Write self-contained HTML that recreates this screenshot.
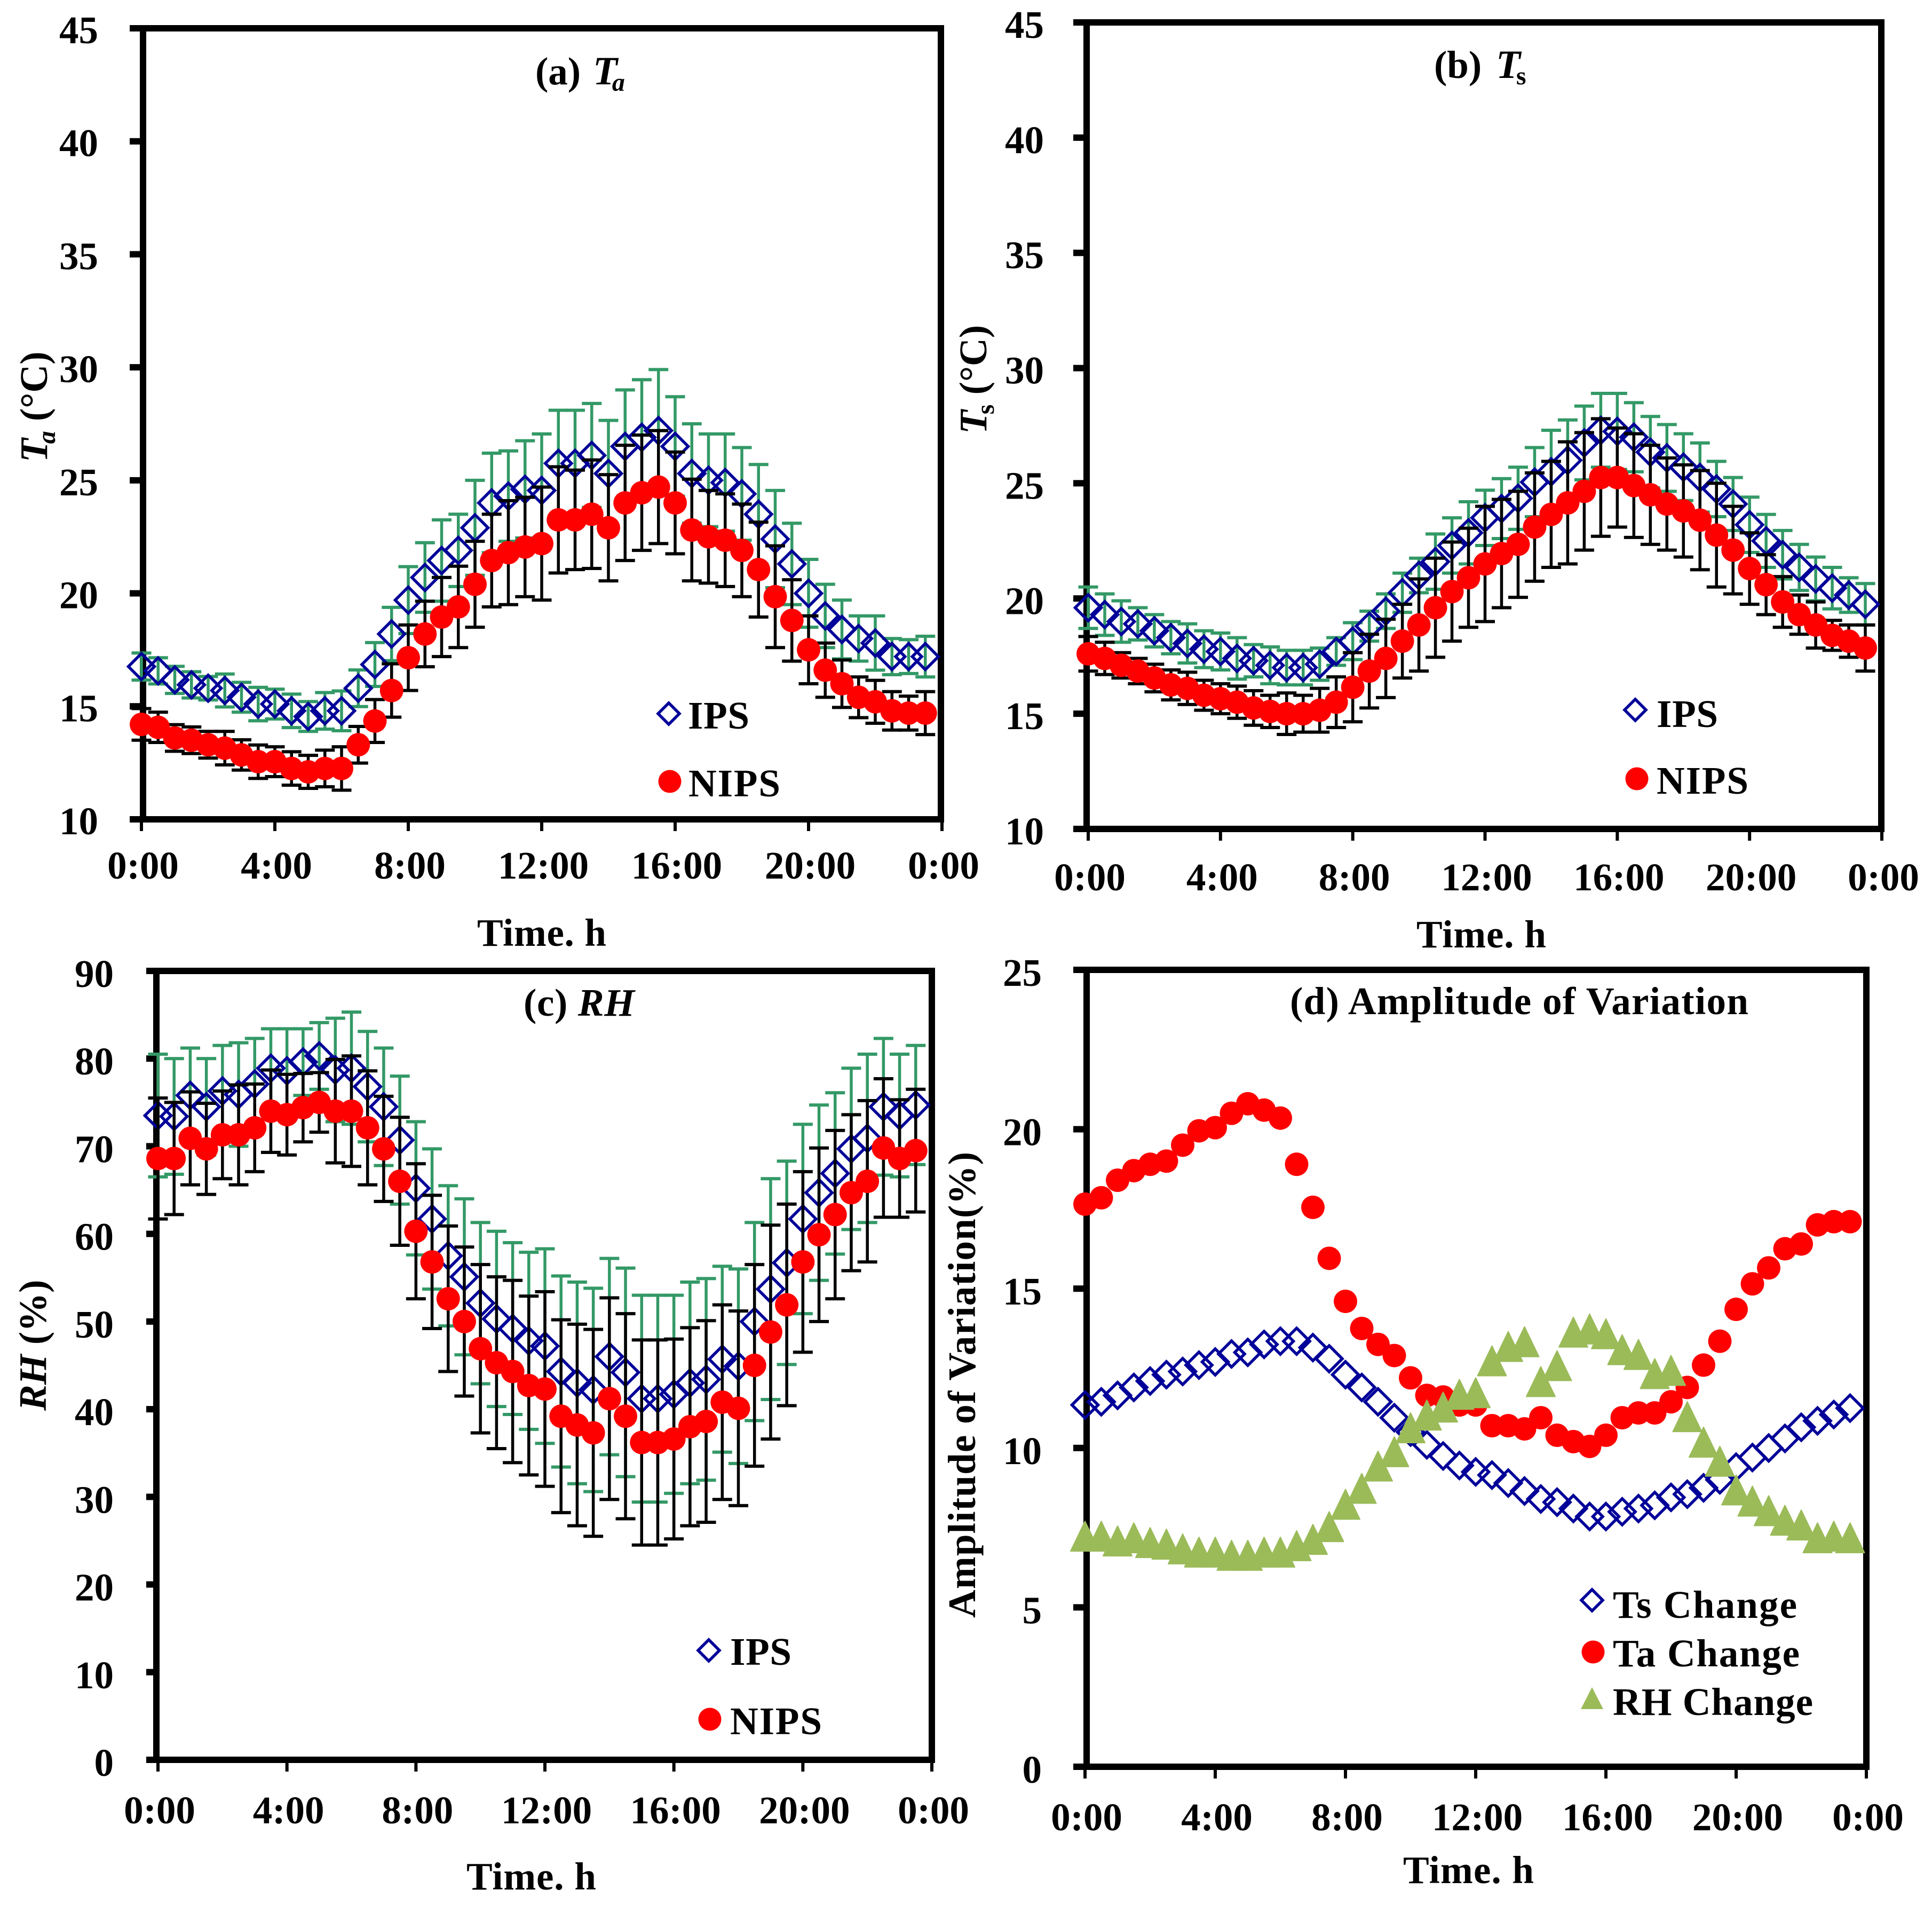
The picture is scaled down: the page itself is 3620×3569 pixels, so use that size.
<!DOCTYPE html>
<html lang="en">
<head>
<meta charset="utf-8">
<title>Temperature and humidity over 24 hours</title>
<style>
html,body{margin:0;padding:0;background:#fff;}
svg{display:block;}
text{font-family:"Liberation Serif",serif;font-weight:bold;fill:#000;font-size:73px;}
.it{font-style:italic;}
</style>
</head>
<body>
<svg id="figure" xmlns="http://www.w3.org/2000/svg" width="3620" height="3569" viewBox="0 0 3620 3569">
<rect x="0" y="0" width="3620" height="3569" fill="#fff"/>

<g id="panel-a"></g>
<g id="panel-b"></g>
<g id="panel-c"></g>
<g id="panel-d"></g>

<text x="1003" y="158">(a) <tspan class="it" x="1111" font-size="75">T</tspan><tspan class="it" font-size="48" dx="-10" dy="12">a</tspan></text>
<text x="2687" y="146">(b) <tspan class="it" x="2803" font-size="75">T</tspan><tspan font-size="48" dx="-8" dy="12">s</tspan></text>
<text x="981" y="1903" textLength="208">(c) <tspan class="it">RH</tspan></text>
<text x="2417" y="1900" textLength="859">(d)  Amplitude of Variation</text>

<text transform="translate(88,866) rotate(-90)"><tspan class="it">T</tspan><tspan class="it" font-size="48" dx="-10" dy="15">a</tspan><tspan dy="-15"> (°C)</tspan></text>
<text transform="translate(1848,813) rotate(-90)"><tspan class="it">T</tspan><tspan font-size="48" dx="-8" dy="14">s</tspan><tspan dy="-14"> (°C)</tspan></text>
<text transform="translate(86,2643) rotate(-90)"><tspan class="it">RH</tspan> (%)</text>
<text transform="translate(1827,3031) rotate(-90)" textLength="873">Amplitude of Variation(%)</text>

<text x="894" y="1772" textLength="242">Time. h</text>
<text x="2654" y="1775" textLength="243">Time. h</text>
<text x="874" y="3540" textLength="243">Time. h</text>
<text x="2629" y="3528" textLength="245">Time. h</text>

<g>
  <polygon points="1253,1317 1273,1337 1253,1357 1233,1337" fill="none" stroke="#000099" stroke-width="5.5"/>
  <text x="1289" y="1365" textLength="115">IPS</text>
  <circle cx="1255" cy="1464" r="21.5" fill="#ff0000"/>
  <text x="1290" y="1492" textLength="172">NIPS</text>
</g>
<g>
  <polygon points="3064,1310 3084,1330 3064,1350 3044,1330" fill="none" stroke="#000099" stroke-width="5.5"/>
  <text x="3104" y="1362" textLength="115">IPS</text>
  <circle cx="3067" cy="1459" r="21.5" fill="#ff0000"/>
  <text x="3104" y="1487" textLength="172">NIPS</text>
</g>
<g>
  <polygon points="1328,3072 1348,3092 1328,3112 1308,3092" fill="none" stroke="#000099" stroke-width="5.5"/>
  <text x="1368" y="3119" textLength="115">IPS</text>
  <circle cx="1330" cy="3221" r="21.5" fill="#ff0000"/>
  <text x="1368" y="3249" textLength="172">NIPS</text>
</g>
<g>
  <polygon points="2983,2978 3003,2998 2983,3018 2963,2998" fill="none" stroke="#000099" stroke-width="5.5"/>
  <text x="3022" y="3031" textLength="345">Ts Change</text>
  <circle cx="2985" cy="3095" r="21.5" fill="#ff0000"/>
  <text x="3022" y="3122" textLength="350">Ta Change</text>
  <polygon points="2983,3161 3004,3202 2962,3202" fill="#9bbb59"/>
  <text x="3022" y="3213" textLength="375">RH Change</text>
</g>
</svg>
<script>
// Shared categories (hour of day for each half-hourly reading)
const halfHours = [0,0.5,1,1.5,2,2.5,3,3.5,4,4.5,5,5.5,6,6.5,7,7.5,8,8.5,9,9.5,10,10.5,11,11.5,12,12.5,13,13.5,14,14.5,15,15.5,16,16.5,17,17.5,18,18.5,19,19.5,20,20.5,21,21.5,22,22.5,23,23.5];
const xTickHours = [0,4,8,12,16,20,24];
const xTickLabels = ['0:00','4:00','8:00','12:00','16:00','20:00','0:00'];
const tempTicks = [10,15,20,25,30,35,40,45];
const rhTicks = [0,10,20,30,40,50,60,70,80,90];
const ampTicks = [0,5,10,15,20,25];

// Panel (a) air temperature
const taIps = [16.76,16.57,16.17,15.95,15.8,15.7,15.4,15.1,15.1,14.8,14.55,14.8,14.8,15.8,16.85,18.2,19.7,20.7,21.45,21.9,22.9,24,24.3,24.6,24.55,25.75,25.75,26.1,25.3,26.5,26.9,27.2,26.5,25.3,25,24.9,24.4,23.5,22.4,21.3,20,19,18.4,18,17.8,17.2,17.2,17.2];
const taIpsErr = [0.6,0.58,0.6,0.58,0.52,0.73,0.66,0.74,0.66,0.74,0.66,0.81,0.88,0.81,0.97,1.18,1.48,1.54,1.8,1.6,2.1,2.2,2,2.15,2.5,2.35,2.35,2.3,2.35,2.5,2.55,2.7,2.2,2.2,2.05,2.15,2.05,2.2,2.15,1.8,1.5,1.4,1.3,1,1.2,0.8,0.75,0.9];
const taNips = [14.2,14.07,13.6,13.5,13.3,13.15,12.85,12.55,12.55,12.25,12.1,12.25,12.25,13.3,14.35,15.7,17.15,18.2,18.95,19.4,20.4,21.45,21.8,22.05,22.2,23.25,23.25,23.5,22.9,24,24.45,24.7,24,22.8,22.5,22.35,21.9,21.05,19.85,18.8,17.5,16.6,16,15.4,15.2,14.8,14.7,14.7];
const taNipsErr = [0.7,0.67,0.59,0.59,0.59,0.74,0.67,0.74,0.66,0.74,0.73,0.81,0.96,0.81,0.95,1.18,1.45,1.45,1.75,1.8,1.9,2.05,2.3,2.2,2.5,2.35,2.2,2.4,2.35,2.55,2.55,2.5,2.25,2.25,2.05,2.05,2.05,2.1,2.25,1.8,1.5,1.2,1.05,0.9,0.95,0.85,0.75,0.95];

// Panel (b) surface temperature
const tsIps = [19.6,19.3,19,18.9,18.6,18.3,18.05,17.8,17.7,17.4,17.3,17.1,17,17,17.15,17.7,18.15,18.8,19.45,20.25,21,21.6,22.3,22.85,23.5,23.9,24.35,25.05,25.5,26,26.75,27.3,27.25,27,26.35,26.1,25.7,25.25,24.75,24.1,23.2,22.5,21.9,21.35,20.85,20.45,20.15,19.75];
const tsIpsErr = [0.9,0.9,0.9,0.7,0.7,0.7,0.85,0.8,0.8,0.9,0.7,0.8,0.75,0.75,0.7,0.6,0.8,0.65,0.75,0.85,0.75,1.2,1.2,1.35,1.2,1.3,1.35,1.5,1.8,1.75,1.6,1.6,1.65,1.5,1.55,1.45,1.45,1.5,1.2,1.15,1.2,1.15,1.05,1,0.95,0.9,0.75,0.9];
const tsNips = [17.6,17.4,17.1,16.85,16.55,16.25,16.1,15.8,15.65,15.5,15.25,15.1,15,15,15.15,15.5,16.15,16.85,17.4,18.15,18.85,19.6,20.3,20.9,21.5,21.95,22.35,23.1,23.65,24.15,24.65,25.25,25.25,24.9,24.5,24.1,23.8,23.4,22.75,22.1,21.3,20.6,19.85,19.3,18.85,18.4,18.15,17.85];
const tsNipsErr = [0.75,0.7,0.55,0.55,0.6,0.65,0.7,0.65,0.65,0.7,0.75,0.7,0.9,0.8,0.95,1.1,1.5,1.6,1.7,1.6,2,2.15,2.15,2.15,2.5,2.35,2.3,2.35,2.3,2.65,2.55,2.55,2.15,2.25,2.15,2,2,2.15,2.25,1.9,1.55,1.3,1.1,0.85,1,0.65,0.7,1];

// Panel (c) relative humidity
const rhIps = [73.5,73.4,75.8,74.5,76.3,75.9,77.1,78.9,78.6,79.6,80.3,78.7,78.9,76.8,74.5,70.7,65.2,61.7,57.5,55.1,52.1,50.3,49.2,47.8,47.2,44.3,43,42.2,46,44.2,41.2,41.2,41.7,43,43.4,45.7,44.9,50,53.7,56.7,61.7,64.7,66.9,69.7,70.9,74.5,73.5,74.7];
const rhIpsErr = [7,6.6,5.4,5.5,5.2,5.9,5.2,4.5,4.8,3.8,3.8,5.9,6.4,6.3,6.7,7.3,7.6,8,8,8.9,9.2,10,9.8,10.1,11.1,10.9,11.5,11.6,11.2,11.9,11.8,11.8,11.3,11.5,11.5,10.6,11.1,11.3,12.6,11.6,10.8,10,9.2,9.2,9.6,7.8,7,6.8];
const rhNips = [68.6,68.6,70.9,69.7,71.3,71.3,72.1,74,73.6,74.4,75,74,74,72.1,69.7,66,60.3,56.8,52.6,50,46.9,45.3,44.3,42.7,42.3,39.2,38.2,37.3,41.2,39.2,36.2,36.2,36.6,38,38.6,40.8,40.1,45,48.8,51.9,56.8,59.9,62.2,64.7,66,69.8,68.6,69.5];
const rhNipsErr = [6.9,6.4,5.3,5.2,5,5.7,5,4.7,4.6,3.9,3.4,5.9,6.3,6.5,6,7.3,7.7,7.6,8.3,8.5,9.6,9.8,10.4,10.2,11.1,11,11.5,11.8,11.5,11.7,11.7,11.7,11.4,11.3,11.5,11.1,11.1,11.5,12.2,11.5,10.3,9.9,9.6,8.9,9.2,7.9,6.7,7];

// Panel (d) amplitude of variation
const ampTs = [11.35,11.45,11.65,11.9,12.1,12.3,12.4,12.6,12.7,12.95,13,13.25,13.35,13.35,13.15,12.8,12.3,11.9,11.45,10.95,10.5,10.1,9.75,9.45,9.25,9.15,8.9,8.65,8.4,8.3,8.1,7.85,7.85,8,8.1,8.2,8.45,8.55,8.75,9,9.4,9.7,10,10.3,10.65,10.85,11.05,11.25];
const ampTa = [17.65,17.85,18.4,18.7,18.9,19,19.5,19.95,20.05,20.5,20.8,20.6,20.35,18.9,17.55,15.95,14.6,13.75,13.25,12.9,12.2,11.65,11.6,11.35,11.35,10.7,10.7,10.6,10.95,10.4,10.2,10.05,10.4,10.95,11.1,11.1,11.45,11.9,12.6,13.35,14.35,15.15,15.65,16.25,16.4,17,17.1,17.1];
const ampRh = [7.2,7.2,7.05,7.15,7,6.95,6.8,6.7,6.7,6.6,6.6,6.7,6.7,6.9,7.1,7.5,8.2,8.7,9.4,9.85,10.6,11,11.25,11.65,11.7,12.7,13.15,13.3,12.05,12.55,13.6,13.7,13.55,13.05,12.9,12.3,12.4,10.95,10.15,9.55,8.65,8.3,8,7.7,7.55,7.15,7.2,7.15];

const SVG_NS = 'http://www.w3.org/2000/svg';
const NAVY = '#000099', GREEN = '#339966', RED = '#ff0000', OLIVE = '#9bbb59';

function makeScale(d0, d1, r0, r1) {
  return function (v) { return r0 + (v - d0) * (r1 - r0) / (d1 - d0); };
}
function line(parent, x1, y1, x2, y2, color, width) {
  const el = document.createElementNS(SVG_NS, 'line');
  el.setAttribute('x1', x1);
  el.setAttribute('y1', y1);
  el.setAttribute('x2', x2);
  el.setAttribute('y2', y2);
  el.setAttribute('stroke', color);
  el.setAttribute('stroke-width', width);
  parent.appendChild(el);
  return el;
}
function group(parent) {
  const el = document.createElementNS(SVG_NS, 'g');
  parent.appendChild(el);
  return el;
}
function drawFrame(parent, p, yTicks) {
  const frame = document.createElementNS(SVG_NS, 'rect');
  
  
  frame.setAttribute('x', p.left);
  frame.setAttribute('y', p.top);
  frame.setAttribute('width', p.right - p.left);
  frame.setAttribute('height', p.bottom - p.top);
  frame.setAttribute('fill', 'none');
  frame.setAttribute('stroke', '#000');
  frame.setAttribute('stroke-width', 12);
  parent.appendChild(frame);
  yTicks.forEach(function (v) {
    const y = p.y(v);
    const tick = line(parent, p.left - p.yTickLen, y, p.left, y, '#000', 12);
    
    
    const label = document.createElementNS(SVG_NS, 'text');
    
    
    label.setAttribute('x', p.yLabelX);
    label.setAttribute('y', y + p.yLabelDy);
    label.setAttribute('text-anchor', 'end');
    label.textContent = String(v);
    parent.appendChild(label);
  });
  xTickHours.forEach(function (h, i) {
    const x = p.x(h);
    const tick = line(parent, x, p.bottom, x, p.bottom + 22, '#000', 6);
    
    
    const label = document.createElementNS(SVG_NS, 'text');
    
    
    label.setAttribute('x', x + 3);
    label.setAttribute('y', p.xLabelY);
    label.setAttribute('text-anchor', 'middle');
    label.textContent = xTickLabels[i];
    parent.appendChild(label);
  });
}
function drawErrorBars(parent, p, values, errors, color, name) {
  const g = group(parent);
  
  
  values.forEach(function (v, i) {
    const x = p.x(halfHours[i]);
    const hi = p.y(v + errors[i]);
    const lo = p.y(v - errors[i]);
    line(g, x, hi, x, lo, color, 5.5);
    line(g, x - 18.5, hi, x + 18.5, hi, color, 6);
    line(g, x - 18.5, lo, x + 18.5, lo, color, 6);
  });
}
function drawDiamonds(parent, p, values, name) {
  const g = group(parent);
  
  
  values.forEach(function (v, i) {
    const x = p.x(halfHours[i]);
    const y = p.y(v);
    const r = 24.5;
    const el = document.createElementNS(SVG_NS, 'polygon');
    
    
    el.setAttribute('points', [x, y - r, x + r, y, x, y + r, x - r, y].join(','));
    el.setAttribute('fill', 'none');
    el.setAttribute('stroke', NAVY);
    el.setAttribute('stroke-width', 5.5);
    g.appendChild(el);
  });
}
function drawCircles(parent, p, values, name) {
  const g = group(parent);
  
  
  values.forEach(function (v, i) {
    const el = document.createElementNS(SVG_NS, 'circle');
    
    
    el.setAttribute('cx', p.x(halfHours[i]));
    el.setAttribute('cy', p.y(v));
    el.setAttribute('r', 22);
    el.setAttribute('fill', RED);
    g.appendChild(el);
  });
}
function drawTriangles(parent, p, values, name) {
  const g = group(parent);
  
  
  values.forEach(function (v, i) {
    const x = p.x(halfHours[i]);
    const y = p.y(v);
    const el = document.createElementNS(SVG_NS, 'polygon');
    
    
    el.setAttribute('points', [x, y - 30, x + 27, y + 26, x - 27, y + 26].join(','));
    el.setAttribute('fill', OLIVE);
    el.setAttribute('stroke', OLIVE);
    el.setAttribute('stroke-width', 2);
    el.setAttribute('stroke-linejoin', 'round');
    g.appendChild(el);
  });
}
function panelGeometry(o, yMin, yMax) {
  return {
    left: o.left, right: o.right, top: o.top, bottom: o.bottom,
    yLabelX: o.yLabelX, xLabelY: o.xLabelY, yTickLen: o.yTickLen, yLabelDy: o.yLabelDy,
    x: makeScale(0, 24, o.x0, o.x24),
    y: makeScale(yMin, yMax, o.bottom, o.top)
  };
}

const pa = panelGeometry({left:268, right:1763, top:53, bottom:1535, x0:265, x24:1765, yLabelX:184, xLabelY:1646, yTickLen:25, yLabelDy:28}, 10, 45);
const pb = panelGeometry({left:2036, right:3525, top:42, bottom:1553, x0:2039, x24:3526, yLabelX:1956, xLabelY:1668, yTickLen:25, yLabelDy:29}, 10, 45);
const pc = panelGeometry({left:293, right:1746, top:1819, bottom:3297, x0:296, x24:1746, yLabelX:213, xLabelY:3416, yTickLen:19, yLabelDy:30}, 0, 90);
const pd = panelGeometry({left:2036, right:3497, top:1817, bottom:3310, x0:2033, x24:3497, yLabelX:1952, xLabelY:3429, yTickLen:25, yLabelDy:30}, 0, 25);

const ga = document.getElementById('panel-a');
drawFrame(ga, pa, tempTicks);
drawErrorBars(ga, pa, taIps, taIpsErr, GREEN, 'ips-error-bars');
drawDiamonds(ga, pa, taIps, 'ips-series');
drawErrorBars(ga, pa, taNips, taNipsErr, '#000', 'nips-error-bars');
drawCircles(ga, pa, taNips, 'nips-series');

const gb = document.getElementById('panel-b');
drawFrame(gb, pb, tempTicks);
drawErrorBars(gb, pb, tsIps, tsIpsErr, GREEN, 'ips-error-bars');
drawDiamonds(gb, pb, tsIps, 'ips-series');
drawErrorBars(gb, pb, tsNips, tsNipsErr, '#000', 'nips-error-bars');
drawCircles(gb, pb, tsNips, 'nips-series');

const gc = document.getElementById('panel-c');
drawFrame(gc, pc, rhTicks);
drawErrorBars(gc, pc, rhIps, rhIpsErr, GREEN, 'ips-error-bars');
drawDiamonds(gc, pc, rhIps, 'ips-series');
drawErrorBars(gc, pc, rhNips, rhNipsErr, '#000', 'nips-error-bars');
drawCircles(gc, pc, rhNips, 'nips-series');

const gd = document.getElementById('panel-d');
drawFrame(gd, pd, ampTicks);
drawDiamonds(gd, pd, ampTs, 'ts-change-series');
drawCircles(gd, pd, ampTa, 'ta-change-series');
drawTriangles(gd, pd, ampRh, 'rh-change-series');
</script>
</body>
</html>
